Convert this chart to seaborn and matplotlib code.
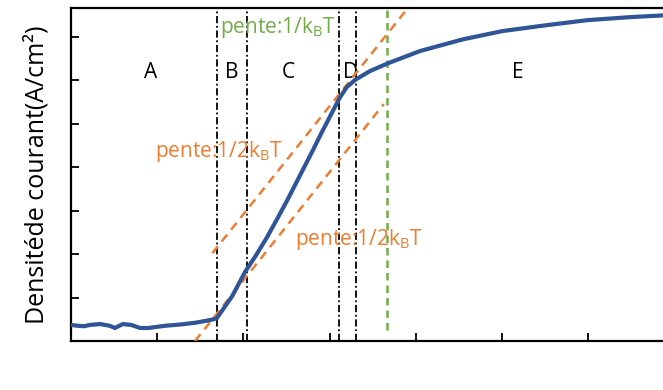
import matplotlib
matplotlib.use('Agg')
import matplotlib.pyplot as plt
import seaborn as sns
import pandas as pd

# blue J(V) curve (x, y in tick units)
curve_x = [0.0, 0.08, 0.15, 0.22, 0.34, 0.45, 0.51, 0.60, 0.70, 0.80, 0.90,
           1.09, 1.27, 1.44, 1.61, 1.69, 1.87, 2.02, 2.14, 2.27, 2.39, 2.51,
           2.66, 2.80, 2.91, 3.02, 3.12, 3.20, 3.30, 3.47, 3.68, 4.05, 4.55,
           5.01, 5.50, 5.99, 6.49, 6.87]
curve_y = [0.37, 0.35, 0.34, 0.37, 0.39, 0.35, 0.30, 0.39, 0.37, 0.30, 0.30,
           0.35, 0.38, 0.42, 0.48, 0.52, 1.03, 1.59, 1.95, 2.37, 2.80, 3.24,
           3.82, 4.36, 4.80, 5.22, 5.60, 5.84, 6.01, 6.21, 6.39, 6.67, 6.94,
           7.13, 7.26, 7.38, 7.45, 7.49]

# slope guides (pente 1/2kBT), two parallel lines
tangent1_x = [1.64, 3.91]
tangent1_y = [2.02, 7.66]
tangent2_x = [1.44, 3.63]
tangent2_y = [0.0, 5.45]

# region boundaries
region_bounds = [1.69, 2.04, 3.11, 3.31]
green_x = 3.67
green_y = [0.25, 7.66]

region_labels = ['A', 'B', 'C', 'D', 'E']
region_label_x = [0.92, 1.87, 2.52, 3.24, 5.19]
region_label_y = 6.05

blue = '#2F5597'
orange = '#ED7D31'
green = '#70AD47'

sns.set_theme(style='ticks')
plt.rcParams['font.family'] = ['Open Sans', 'DejaVu Sans']
plt.rcParams['mathtext.fontset'] = 'custom'
plt.rcParams['mathtext.rm'] = 'Open Sans'
plt.rcParams['mathtext.it'] = 'Open Sans'

fig = plt.figure(figsize=(6.63, 3.9), dpi=100)
ax = fig.add_axes([0.1071, 0.1256, 0.8929, 0.8539])

df = pd.DataFrame({'V': curve_x, 'J': curve_y})
sns.lineplot(data=df, x='V', y='J', ax=ax, color=blue, lw=3, zorder=5)

ax.plot(tangent1_x, tangent1_y, color=orange, lw=1.8, ls=(0, (3.5, 2.5)), zorder=4)
ax.plot(tangent2_x, tangent2_y, color=orange, lw=1.8, ls=(0, (3.5, 2.5)), zorder=4)

for xb in region_bounds:
    ax.axvline(xb, color='black', lw=1.3, ls=(0, (4, 1.5, 1, 1.5)), zorder=3)
ax.plot([green_x, green_x], green_y, color=green, lw=1.8, ls=(0, (3, 2)), zorder=3)

for lab, lx in zip(region_labels, region_label_x):
    ax.text(lx, region_label_y, lab, ha='center', va='baseline', fontsize=15, color='black')

ax.text(1.73, 7.08, r'pente:1/k$_{\mathrm{B}}$T', color=green, fontsize=15, va='baseline')
ax.text(0.97, 4.23, r'pente:1/2k$_{\mathrm{B}}$T', color=orange, fontsize=15, va='baseline')
ax.text(2.60, 2.21, r'pente:1/2k$_{\mathrm{B}}$T', color=orange, fontsize=15, va='baseline')

ax.set_xlim(0, 6.87)
ax.set_ylim(0, 7.66)
ax.set_xticks(range(0, 7))
ax.set_yticks(range(0, 8))
ax.set_xticklabels([])
ax.set_yticklabels([])
ax.tick_params(direction='in', length=6, width=1.3, color='black')
ax.set_xlabel('')
ax.set_ylabel('Densitéde courant(A/cm²)', fontsize=18, color='black', labelpad=12)
for side in ['left', 'bottom', 'top']:
    ax.spines[side].set_color('black')
    ax.spines[side].set_linewidth(1.6)
ax.spines['right'].set_visible(False)

fig.savefig('out.png', dpi=100)
